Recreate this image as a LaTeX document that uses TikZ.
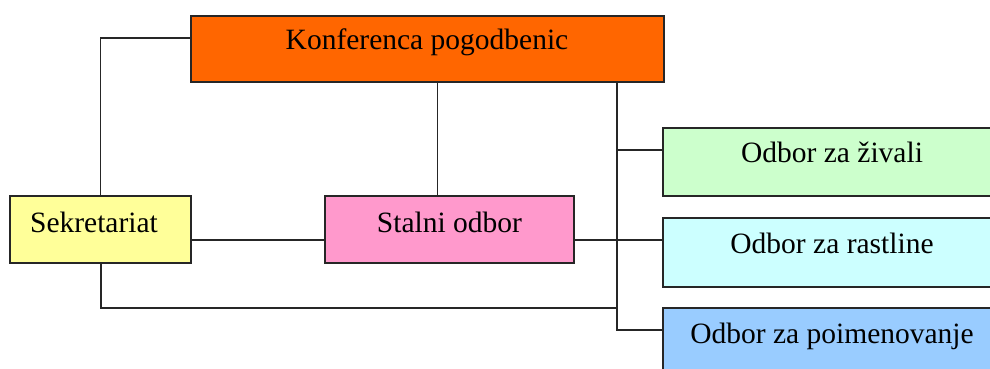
\documentclass[tikz,border=0pt]{standalone}
\usepackage{fontspec}
\setmainfont{Liberation Serif}
\definecolor{cOrange}{HTML}{FF6600}
\definecolor{cYellow}{HTML}{FFFF99}
\definecolor{cPink}{HTML}{FF99CC}
\definecolor{cGreen}{HTML}{CCFFCC}
\definecolor{cCyan}{HTML}{CCFFFF}
\definecolor{cBlue}{HTML}{99CCFF}
\tikzset{
  orgbox/.style={draw=black!85, line width=1.8pt, rectangle, inner sep=0pt},
  orgtext/.style={anchor=base, inner sep=0pt, font=\fontsize{29.5}{31}\selectfont},
  conn/.style={draw=black!85, line width=1.8pt}
}
\begin{document}
\begin{tikzpicture}[x=1pt,y=-1pt]
\useasboundingbox (0,0) rectangle (990,369);
\clip (0,0) rectangle (990,369);
% boxes
\node[orgbox, fill=cOrange, minimum width=473pt, minimum height=66pt] (konf) at (427.5,49) {};
\node[orgbox, fill=cYellow, minimum width=181pt, minimum height=67pt] (sek) at (100.5,229.5) {};
\node[orgbox, fill=cPink, minimum width=249pt, minimum height=67pt] (stal) at (449.5,229.5) {};
\node[orgbox, fill=cGreen, minimum width=338pt, minimum height=68pt] (ziv) at (832,162) {};
\node[orgbox, fill=cCyan, minimum width=338pt, minimum height=69pt] (rast) at (832,252.5) {};
\node[orgbox, fill=cBlue, minimum width=338pt, minimum height=68pt] (poim) at (832,342) {};
% texts
\node[orgtext] (tkonf) at (427,50) {Konferenca pogodbenic};
\node[orgtext] (tsek) at (94,232) {Sekretariat};
\node[orgtext] (tstal) at (449.5,232) {Stalni odbor};
\node[orgtext] (tziv) at (832,162) {Odbor za živali};
\node[orgtext] (trast) at (832,253) {Odbor za rastline};
\node[orgtext] (tpoim) at (832,343) {Odbor za poimenovanje};
% helper coordinates
\coordinate (kl) at (191,38);
\coordinate (kb) at (437.5,82);
\coordinate (bus) at (617,82);
\coordinate (sr) at (191,240);
\coordinate (sb) at (101,263);
\coordinate (bl) at (617,308);
\coordinate (zl) at (663,150);
\coordinate (rl) at (663,240);
\coordinate (pl) at (663,330);
% connectors
\draw[conn] (sek.north) |- (kl);
\draw[conn] (kb) -- (kb |- stal.north);
\draw[conn] (sr) -- (sr -| stal.west);
\draw[conn] (sr -| stal.east) -- (rl);
\draw[conn] (bus) |- (pl);
\draw[conn] (bus |- zl) -- (zl);
\draw[conn] (sb) |- (bl);
\end{tikzpicture}
\end{document}
